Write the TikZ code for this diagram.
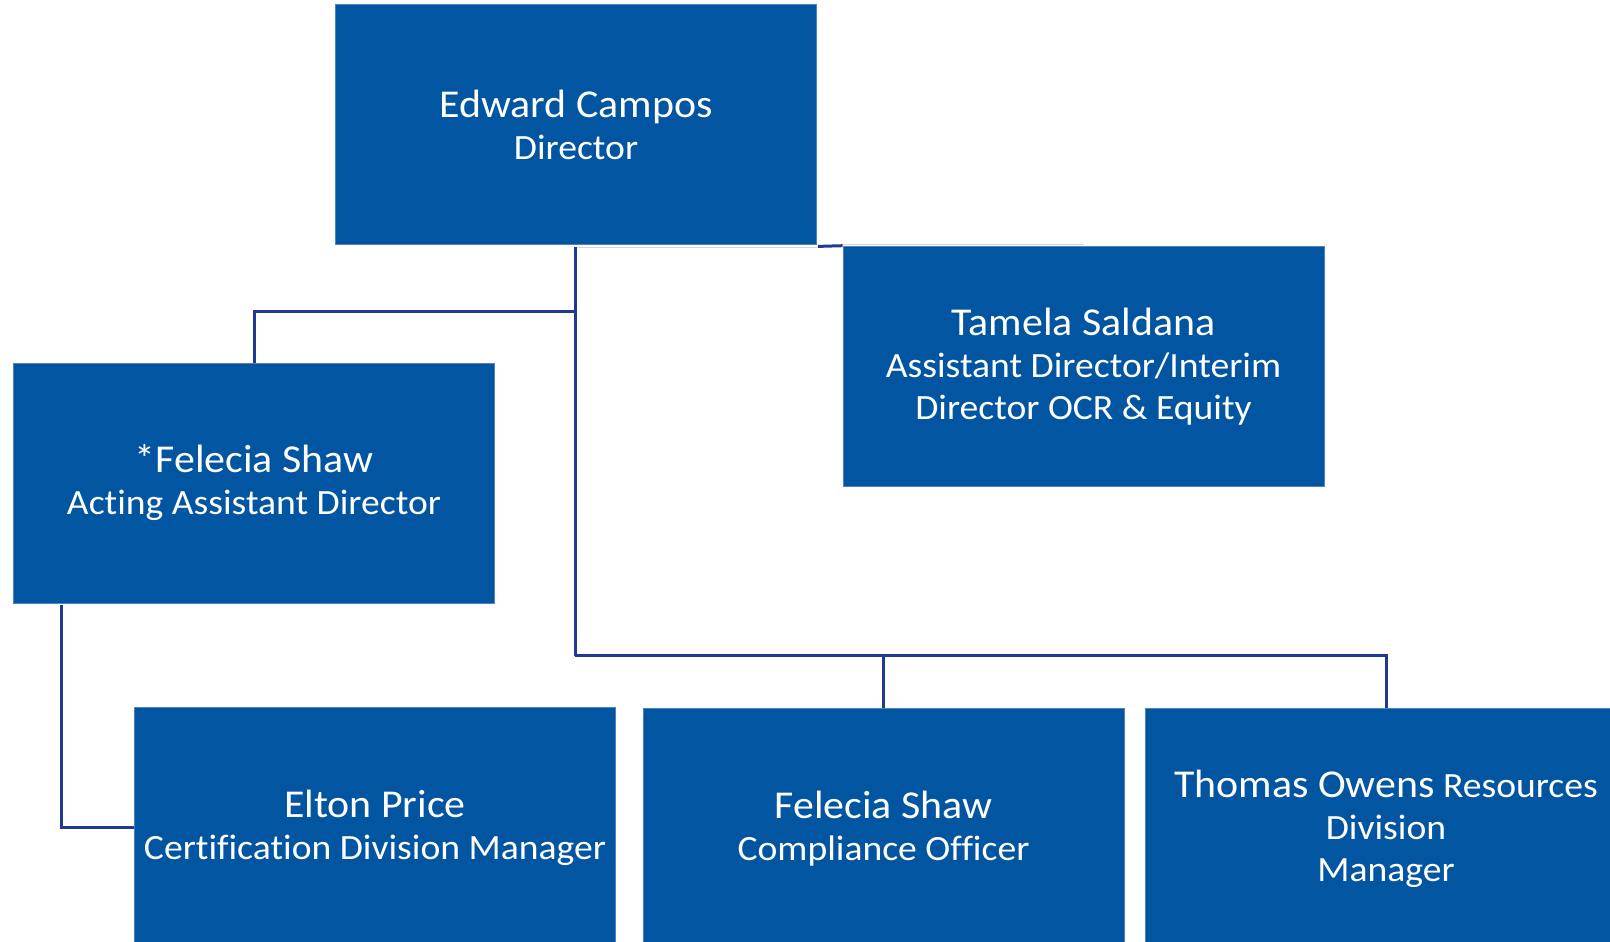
\documentclass[tikz,border=0pt]{standalone}
\usepackage{fontspec}
\setmainfont[FakeStretch=1.06,Ligatures=NoCommon]{Carlito}
\definecolor{boxblue}{RGB}{2,85,161}
\definecolor{boxedge}{RGB}{80,130,190}
\definecolor{linkblue}{RGB}{33,58,145}
\definecolor{faint}{RGB}{205,214,230}
\newcommand{\nm}[1]{{\fontsize{39.5}{42}\selectfont #1}}
\begin{document}
\begin{tikzpicture}[x=1pt,y=-1pt,
  orgbox/.style={rectangle, fill=boxblue, draw=boxedge, line width=0.8pt,
    minimum width=481pt, minimum height=240pt, inner sep=0pt,
    text=white, align=center, font=\fontsize{35.5}{42}\selectfont},
  link/.style={draw=linkblue, line width=3pt},
  faintline/.style={draw=faint, line width=1pt}]
\useasboundingbox (0,0) rectangle (1610,942);
\begin{scope}
\clip (0,0) rectangle (1610,942);
\node[orgbox] (dir) at (576,124.5) {\nm{Edward Campos}\\Director};
\node[orgbox] (tam) at (1083.5,366.5) {\nm{Tamela Saldana}\\Assistant Director/Interim\\Director OCR \& Equity};
\node[orgbox] (fel) at (254,483) {\nm{*Felecia Shaw}\\Acting Assistant Director};
\node[orgbox] (elt) at (375,827.5) {\nm{Elton Price}\\Certification Division Manager};
\node[orgbox] (cmp) at (883.5,828.5) {\nm{Felecia Shaw}\\Compliance Officer};
\node[orgbox] (tho) at (1386,828.5) {\nm{Thomas Owens} Resources\\Division\\Manager};

\coordinate (j1) at (575,311.7);
\coordinate (j2) at (575,655.7);
\coordinate (dtop) at (575,247);
\coordinate (fb) at (61,605);

% faint edge lines
\draw[faintline] (dtop) -- (dir.south east |- dtop);
\draw[faintline] (tam.north west |- 0,244) -- (tam.north |- 0,244);
% director to Tamela
\draw[link] (dir.south east) ++(1,1.5) -- (tam.north west |- 0,245.7);
% main trunk
\draw[link] (dtop) -- (j2);
\draw[link] (j1) -| (fel.north);
\draw[link] (j2) -| (cmp.north);
\draw[link] (j2) -| (tho.north);
% Felecia to Elton
\draw[link] (fb) |- (elt.west);
\end{scope}
\end{tikzpicture}
\end{document}
